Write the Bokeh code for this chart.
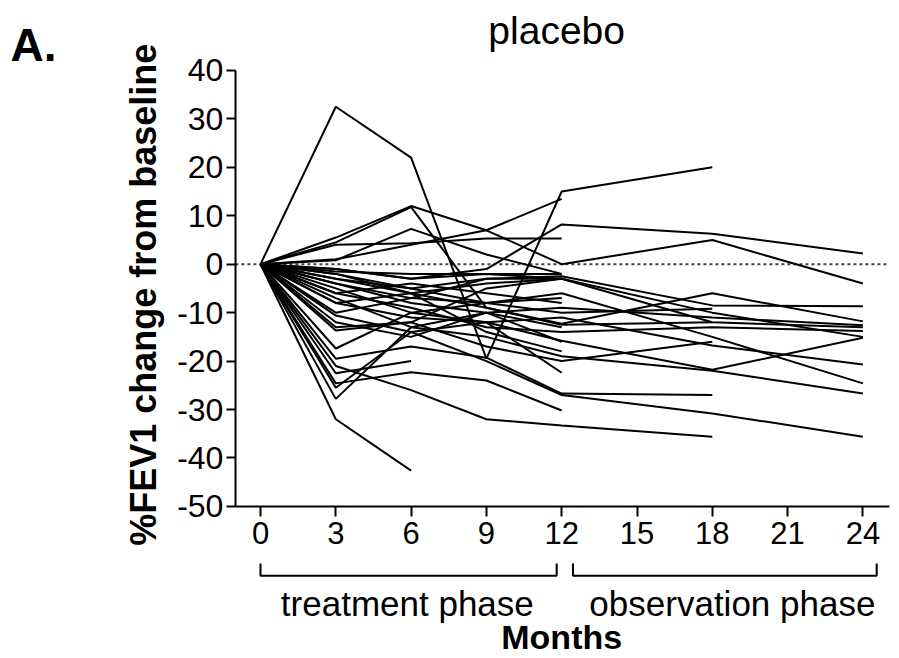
import math
from bokeh.plotting import figure
from bokeh.models import Range1d, FixedTicker
from bokeh.embed import file_html
from bokeh.resources import INLINE
from bokeh.core.properties import value

# ---- data -------------------------------------------------------------
months = [0, 3, 6, 9, 12, 18, 24]
x_ticks = [0, 3, 6, 9, 12, 15, 18, 21, 24]
y_ticks = [-50, -40, -30, -20, -10, 0, 10, 20, 30, 40]

s01 = [0, 32.5, 22, -19.5, 15, 20, None]
s02 = [0, 5.5, 12, 7, 0, 5, -4]
s03 = [0, 4.5, 11.8, -9, -12.5, -12, None]
s04 = [0, 1, 4, 7, 13.5, None, None]
s05 = [0, 4, 4.3, 5.3, 5.3, None, None]
s06 = [0, 0.8, 7.3, 2, -2, None, None]
s07 = [0, -1, -3, -1, 8.2, 6.3, 2.2]
s08 = [0, -2, -5, -3, -2.5, -8.5, -8.7]
s09 = [0, -3, -6, -9, -12.3, -6, -11.8]
s10 = [0, -4, -8, -10, -9, -11, -12.6]
s11 = [0, -2, -6, -4, -3, -12, -13]
s12 = [0, -5, -10, -12, -15.8, -21.8, -15.2]
s13 = [0, -6, -9, -13, -14, -13, -13.8]
s14 = [0, -8, -11, -12, -11, -16.8, -20.7]
s15 = [0, -3, -5, -8, -6, -15, -24.6]
s16 = [0, -7, -13, -15, -19, -22, -26.7]
s17 = [0, -10.6, -14, -20, -27, -30.8, -35.6]
s18 = [0, -1, -3, -2, -3, -10, -15]
s19 = [0, -4, -7, -8, -10, -9.2, None]
s20 = [0, -13, -12, -17, -20, -16, None]
s21 = [0, -19.5, -17, -19.3, -26.7, -27, None]
s22 = [0, -21, -26, -32, -33.3, -35.6, None]
s23 = [0, -24.6, -22.3, -24, -30.2, None, None]
s24 = [0, -32, -42.6, None, None, None, None]
s25 = [0, -22.5, -20, None, None, None, None]
s26 = [0, -13.7, -12, -5, -3, None, None]
s27 = [0, -17.4, -10, -8, -7, None, None]
s28 = [0, -27.8, -13, -10, -16, None, None]
s29 = [0, -25.5, -14, -12, -22.4, None, None]
s30 = [0, -6, -4, -6, -8, None, None]
s31 = [0, -8, -6, -14, -18, None, None]
s32 = [0, -10, -7, -3, -3, None, None]
s33 = [0, -1.5, -2, -2, -2, None, None]
s34 = [0, -12, -15, -10, -13, None, None]

series = [s01, s02, s03, s04, s05, s06, s07, s08, s09, s10, s11, s12,
          s13, s14, s15, s16, s17, s18, s19, s20, s21, s22, s23, s24,
          s25, s26, s27, s28, s29, s30, s31, s32, s33, s34]

title_text = "placebo"
panel_text = "A."
y_label = "%FEV1 change from baseline"
x_label = "Months"
phase_labels = ["treatment phase", "observation phase"]

# ---- figure (frame covers the whole canvas; axes fixed inside) ----------
FONT = "Liberation Sans"
PX_X = 25.1          # pixels per month
X0_PX = 260.0        # pixel of month 0
PX_Y = 436.0 / 90.0  # pixels per % unit
Y0_PX = 263.7        # pixel of 0 %
W, H = 899, 658

x_range = Range1d(-X0_PX / PX_X, (W - X0_PX) / PX_X)
y_range = Range1d(-(H - Y0_PX) / PX_Y, Y0_PX / PX_Y)

p = figure(width=W, height=H, output_backend="svg", toolbar_location=None,
           x_range=x_range, y_range=y_range,
           min_border=0, min_border_left=0, min_border_right=0,
           min_border_top=0, min_border_bottom=0)
p.grid.visible = False
p.outline_line_color = None
p.background_fill_color = "white"
p.border_fill_color = "white"

minus_fix = {t: str(t) for t in y_ticks}

# y axis fixed at month -1
yax = p.yaxis[0]
yax.fixed_location = -1
yax.ticker = FixedTicker(ticks=y_ticks)
yax.major_label_overrides = minus_fix
yax.bounds = (-50, 40)
yax.major_label_text_font = FONT
yax.major_label_text_font_size = "32px"
yax.major_label_standoff = 3
yax.major_tick_out = 9
yax.major_tick_in = 0
yax.minor_tick_out = 0
yax.minor_tick_in = 0
yax.axis_line_width = 2
yax.major_tick_line_width = 2
yax.axis_line_color = "black"
yax.major_tick_line_color = "black"
yax.major_label_text_color = "black"

# x axis fixed at -50 %
xax = p.xaxis[0]
xax.fixed_location = -50
xax.ticker = FixedTicker(ticks=x_ticks)
xax.bounds = (-1, 25.05)
xax.major_label_text_font = FONT
xax.major_label_text_font_size = "31px"
xax.major_label_standoff = 6
xax.major_tick_out = 10
xax.major_tick_in = 0
xax.minor_tick_out = 0
xax.minor_tick_in = 0
xax.axis_line_width = 2
xax.major_tick_line_width = 2
xax.axis_line_color = "black"
xax.major_tick_line_color = "black"
xax.major_label_text_color = "black"

# dotted zero line from the y axis to the right edge
p.line([-1, 25.05], [0, 0], line_color="#444444", line_width=2, line_dash="3 3")

# subject lines
xs = [[m for m, v in zip(months, s) if v is not None] for s in series]
ys = [[v for v in s if v is not None] for s in series]
p.multi_line(xs=xs, ys=ys, line_color="black", line_width=2)

# phase brackets
br_top, br_bot = -61.8, -64.3
p.line([0, 0, 11.8, 11.8], [br_top, br_bot, br_bot, br_top], line_color="black", line_width=2)
p.line([12.45, 12.45, 24.55, 24.55], [br_top, br_bot, br_bot, br_top], line_color="black", line_width=2)

p.text(x=[5.85, 18.8], y=[-70.1, -70.1], text=phase_labels,
       text_font=value(FONT), text_font_size="35px", text_align="center",
       text_baseline="middle", text_color="black")
p.text(x=[12.0], y=[-76.9], text=[x_label], text_font=value(FONT),
       text_font_size="34px", text_font_style="bold", text_align="center",
       text_baseline="middle", text_color="black")

# y-axis title
p.text(x=[-4.66], y=[-6.3], text=[y_label], angle=math.pi / 2,
       text_font=value(FONT), text_font_size="36px", text_font_style="bold",
       text_align="center", text_baseline="middle", text_color="black")

# chart title and panel letter
p.text(x=[11.8], y=[48.3], text=[title_text], text_font=value(FONT),
       text_font_size="39px", text_align="center", text_baseline="middle",
       text_color="black")
p.text(x=[-9.96], y=[45.2], text=[panel_text], text_font=value(FONT),
       text_font_size="46px", text_font_style="bold", text_align="left",
       text_baseline="middle", text_color="black")

open("out.html", "w").write(file_html(p, INLINE))
